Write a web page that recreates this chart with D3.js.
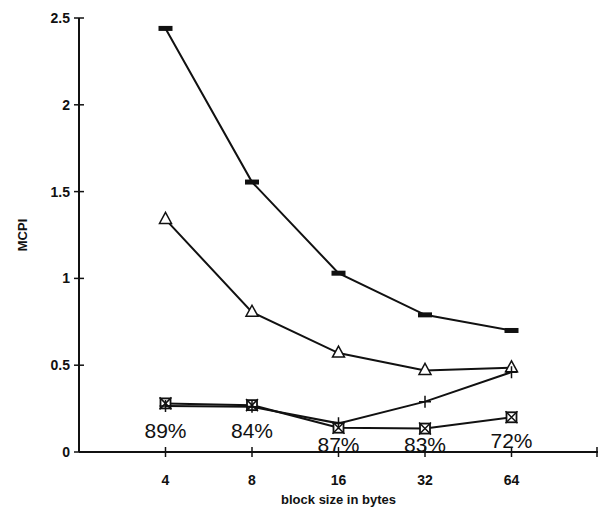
<!DOCTYPE html>
<html>
<head>
<meta charset="utf-8">
<script src="https://cdn.jsdelivr.net/npm/d3@7"></script>
<style>
  body { margin: 0; background: #fff; }
  svg { display: block; font-family: "Liberation Sans", Arial, sans-serif; }
  .tick-label { font-size: 14px; font-weight: bold; fill: #111; }
  .axis-title { font-size: 13px; font-weight: bold; fill: #111; }
  .pct { font-size: 21px; fill: #111; }
</style>
</head>
<body>
<svg id="chart" width="603" height="518"></svg>
<script>
// block sizes on the category axis
const blockSizes = ['4', '8', '16', '32', '64'];
const yTicks = [0, 0.5, 1, 1.5, 2, 2.5];

// MCPI for each configuration
const dashSeries = [2.44, 1.555, 1.03, 0.79, 0.70];
const triangleSeries = [1.34, 0.805, 0.57, 0.47, 0.485];
const plusSeries = [0.265, 0.26, 0.165, 0.29, 0.46];
const squareSeries = [0.28, 0.27, 0.14, 0.135, 0.20];

// percentages printed under the points
const pctLabels = ['89%', '84%', '87%', '83%', '72%'];

const margin = {left: 79, right: 5, top: 18, bottom: 66};
const W = 603, H = 518;

const svg = d3.select('#chart');

const x = d3.scalePoint()
    .domain(blockSizes)
    .range([margin.left, W - margin.right])
    .padding(1);
const y = d3.scaleLinear()
    .domain([0, 2.5])
    .range([H - margin.bottom, margin.top]);

const axisColor = '#111';

// y axis
svg.append('line')
    .attr('x1', margin.left).attr('x2', margin.left)
    .attr('y1', y(2.5)).attr('y2', y(0))
    .attr('stroke', axisColor).attr('stroke-width', 2);
yTicks.forEach(t => {
    svg.append('line')
        .attr('x1', margin.left - 5).attr('x2', margin.left + 5)
        .attr('y1', y(t)).attr('y2', y(t))
        .attr('stroke', axisColor).attr('stroke-width', 1.5);
    svg.append('text')
        .attr('class', 'tick-label')
        .attr('x', margin.left - 9)
        .attr('y', y(t) + 5)
        .attr('text-anchor', 'end')
        .text(t);
});

// x axis
const xEnd = W - margin.right;
svg.append('line')
    .attr('x1', margin.left).attr('x2', xEnd)
    .attr('y1', y(0)).attr('y2', y(0))
    .attr('stroke', axisColor).attr('stroke-width', 2);
blockSizes.forEach(b => {
    svg.append('line')
        .attr('x1', x(b)).attr('x2', x(b))
        .attr('y1', y(0) - 5).attr('y2', y(0) + 5)
        .attr('stroke', axisColor).attr('stroke-width', 1.5);
    svg.append('text')
        .attr('class', 'tick-label')
        .attr('x', x(b))
        .attr('y', y(0) + 33)
        .attr('text-anchor', 'middle')
        .text(b);
});
svg.append('line')
    .attr('x1', xEnd - 1).attr('x2', xEnd - 1)
    .attr('y1', y(0) - 5).attr('y2', y(0) + 5)
    .attr('stroke', axisColor).attr('stroke-width', 1.5);

// axis titles
svg.append('text')
    .attr('class', 'axis-title')
    .attr('transform', `translate(27,${y(1.25)}) rotate(-90)`)
    .attr('text-anchor', 'middle')
    .text('MCPI');
svg.append('text')
    .attr('class', 'axis-title')
    .attr('x', x('16'))
    .attr('y', H - 14)
    .attr('text-anchor', 'middle')
    .text('block size in bytes');

// percentage labels: the first two sit a bit higher than the rest
pctLabels.forEach((p, i) => {
    let raise = i < 2 ? 14 : (i == 4 ? 4 : 0);
    svg.append('text')
        .attr('class', 'pct')
        .attr('x', x(blockSizes[i]))
        .attr('y', y(0) - raise)
        .attr('text-anchor', 'middle')
        .text(p);
});

const line = d3.line()
    .x((d, i) => x(blockSizes[i]))
    .y(d => y(d));

function drawSeries(values, marker) {
    svg.append('path')
        .datum(values)
        .attr('d', line)
        .attr('fill', 'none')
        .attr('stroke', '#111')
        .attr('stroke-width', 2);
    const g = svg.append('g');
    values.forEach((v, i) => marker(g, x(blockSizes[i]), y(v)));
}

function dashMarker(g, px, py) {
    g.append('rect')
        .attr('x', px - 7).attr('y', py - 2.5)
        .attr('width', 14).attr('height', 5)
        .attr('fill', '#111');
}
function triangleMarker(g, px, py) {
    g.append('path')
        .attr('d', `M${px},${py - 7}L${px + 6},${py + 4}L${px - 6},${py + 4}Z`)
        .attr('fill', '#fff')
        .attr('stroke', '#111')
        .attr('stroke-width', 1.5);
}
function plusMarker(g, px, py) {
    g.append('path')
        .attr('d', `M${px - 6},${py}H${px + 6}M${px},${py - 6}V${py + 6}`)
        .attr('stroke', '#111')
        .attr('stroke-width', 1.5);
}
function squareXMarker(g, px, py) {
    g.append('rect')
        .attr('x', px - 5).attr('y', py - 5)
        .attr('width', 10).attr('height', 10)
        .attr('fill', '#fff')
        .attr('stroke', '#111')
        .attr('stroke-width', 1.8);
    g.append('path')
        .attr('d', `M${px - 6},${py - 6}L${px + 6},${py + 6}M${px + 6},${py - 6}L${px - 6},${py + 6}`)
        .attr('stroke', '#111')
        .attr('stroke-width', 1.5);
}

drawSeries(dashSeries, dashMarker);
drawSeries(triangleSeries, triangleMarker);
drawSeries(squareSeries, squareXMarker);
drawSeries(plusSeries, plusMarker);
</script>
</body>
</html>
